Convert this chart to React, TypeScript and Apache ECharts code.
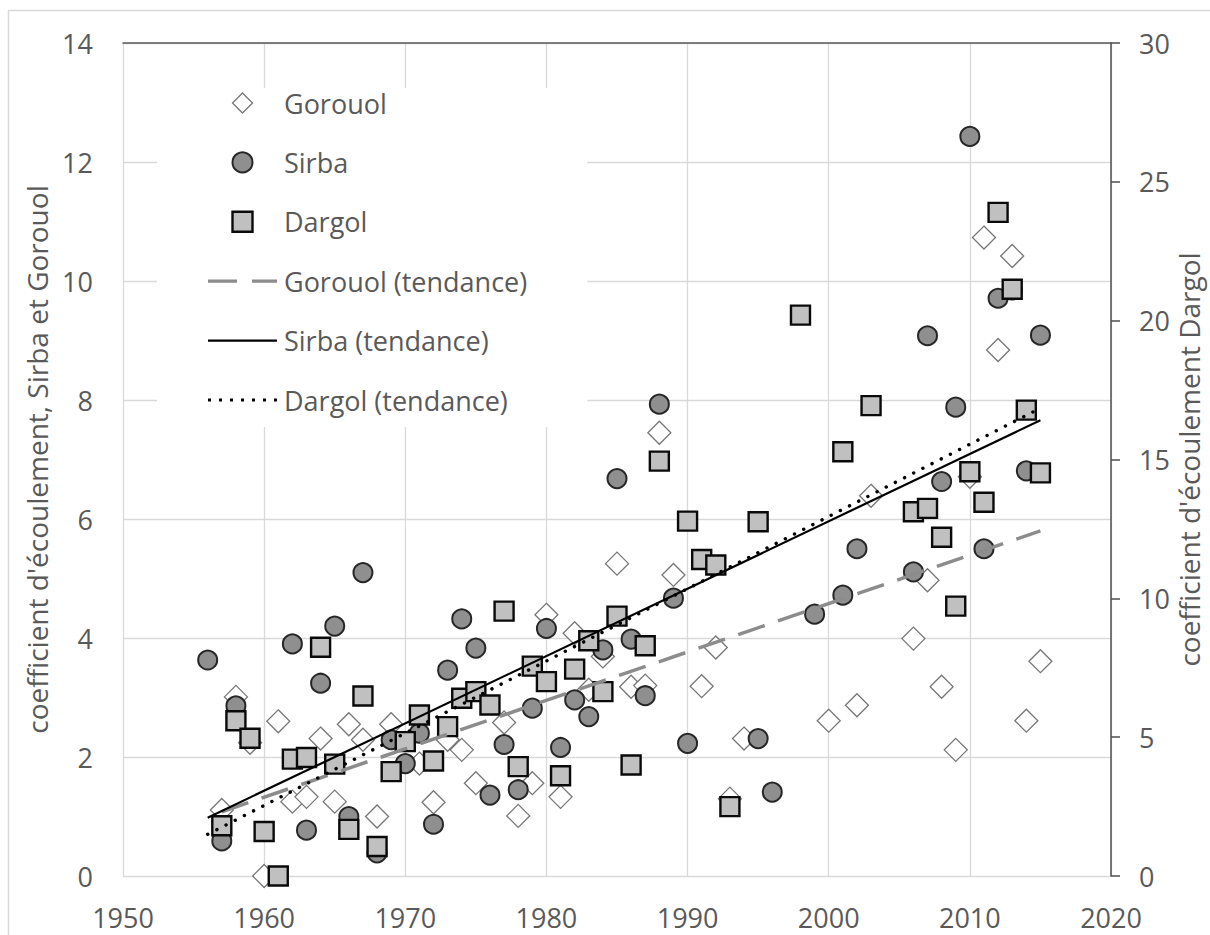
import React, { useEffect, useRef } from "react";
import * as echarts from "echarts";

// ---------- data ----------
const gorouolYears = [1957, 1958, 1959, 1960, 1961, 1962, 1963, 1964, 1965, 1966, 1967, 1968, 1969, 1971, 1972, 1973, 1974, 1975, 1977, 1978, 1979, 1980, 1981, 1982, 1983, 1984, 1985, 1986, 1987, 1988, 1989, 1991, 1992, 1993, 1994, 2000, 2002, 2003, 2006, 2007, 2008, 2009, 2010, 2011, 2012, 2013, 2014, 2015];
const gorouolValues = [1.11, 3.01, 2.24, 0.0, 2.6, 1.25, 1.33, 2.31, 1.25, 2.55, 2.29, 1.0, 2.55, 1.89, 1.24, 2.29, 2.12, 1.56, 2.58, 1.01, 1.56, 4.39, 1.33, 4.08, 3.13, 3.69, 5.25, 3.18, 3.2, 7.45, 5.06, 3.19, 3.84, 1.3, 2.31, 2.61, 2.87, 6.39, 3.99, 4.97, 3.18, 2.12, 6.71, 10.73, 8.84, 10.42, 2.61, 3.61];

const sirbaYears = [1956, 1957, 1958, 1962, 1963, 1964, 1965, 1966, 1967, 1968, 1969, 1970, 1971, 1972, 1973, 1974, 1975, 1976, 1977, 1978, 1979, 1980, 1981, 1982, 1983, 1984, 1985, 1986, 1987, 1988, 1989, 1990, 1995, 1996, 1999, 2001, 2002, 2006, 2007, 2008, 2009, 2010, 2011, 2012, 2013, 2014, 2015];
const sirbaValues = [3.63, 0.59, 2.86, 3.9, 0.77, 3.24, 4.2, 1.0, 5.1, 0.39, 2.29, 1.89, 2.4, 0.87, 3.46, 4.32, 3.83, 1.36, 2.21, 1.45, 2.82, 4.16, 2.16, 2.96, 2.68, 3.8, 6.68, 3.98, 3.03, 7.93, 4.67, 2.23, 2.31, 1.41, 4.4, 4.72, 5.5, 5.11, 9.08, 6.63, 7.88, 12.43, 5.5, 9.71, 9.85, 6.81, 9.09];

const dargolYears = [1957, 1958, 1959, 1960, 1961, 1962, 1963, 1964, 1965, 1966, 1967, 1968, 1969, 1970, 1971, 1972, 1973, 1974, 1975, 1976, 1977, 1978, 1979, 1980, 1981, 1982, 1983, 1984, 1985, 1986, 1987, 1988, 1990, 1991, 1992, 1993, 1995, 1998, 2001, 2003, 2006, 2007, 2008, 2009, 2010, 2011, 2012, 2013, 2014, 2015];
const dargolValues = [1.81, 5.59, 4.96, 1.6, 0.0, 4.21, 4.27, 8.24, 4.03, 1.68, 6.48, 1.06, 3.76, 4.84, 5.8, 4.14, 5.38, 6.4, 6.64, 6.16, 9.54, 3.94, 7.56, 7.0, 3.61, 7.45, 8.47, 6.64, 9.36, 4.0, 8.29, 14.94, 12.78, 11.4, 11.2, 2.5, 12.76, 20.2, 15.28, 16.94, 13.12, 13.24, 12.2, 9.72, 14.56, 13.46, 23.9, 21.13, 16.78, 14.52];

// trend lines (end points)
const gorouolTrendYears = [1957, 2015];
const gorouolTrendValues = [1.08, 5.8];
const sirbaTrendYears = [1956, 2015];
const sirbaTrendValues = [0.98, 7.66];
const dargolTrendYears = [1956, 2015];
const dargolTrendValues = [1.5, 16.85];

// axes
const xMin = 1950, xMax = 2020, xStep = 10;
const leftMin = 0, leftMax = 14, leftStep = 2;
const rightMin = 0, rightMax = 30, rightStep = 5;

const leftTitle = "coefficient d'écoulement, Sirba et Gorouol";
const rightTitle = "coefficient d'écoulement Dargol";
const seriesNames = ["Gorouol", "Sirba", "Dargol", "Gorouol (tendance)", "Sirba (tendance)", "Dargol (tendance)"];

// ---------- styling ----------
const FONT = "'Open Sans', 'Noto Sans', sans-serif";
const TEXT = "#595959";
const GRID = "#d9d9d9";
const AXIS = "#595959";

const pairs = (xs: number[], ys: number[]) => xs.map((x, i) => [x, ys[i]]);

const DIAMOND_ICON = "path://M10,0L20,10L10,20L0,10Z";
const SQUARE_ICON = "path://M0,0h20v20h-20z";
const DASH_ICON = "path://M0,0h29v3.2h-29z M44,0h25v3.2h-25z";
const SOLID_ICON = "path://M0,0h69v2.2h-69z";
const DOT_ICON = "path://M0,0h3v3h-3z M11,0h3v3h-3z M22,0h3v3h-3z M33,0h3v3h-3z M44,0h3v3h-3z M55,0h3v3h-3z M66,0h3v3h-3z";

function buildOption() {
  const labelStyle = { color: TEXT, fontSize: 27, fontFamily: FONT };
  const titleStyle = { color: TEXT, fontSize: 28, fontFamily: FONT };
  const plain = (v: number) => String(v);
  return {
    animation: false,
    backgroundColor: "#ffffff",
    textStyle: { fontFamily: FONT },
    graphic: [
      {
        type: "rect",
        silent: true,
        shape: { x: 8.5, y: 10.5, width: 1400, height: 1100 },
        style: { fill: "none", stroke: GRID, lineWidth: 1.5 },
      },
    ],
    grid: { left: 123, right: 99, top: 43, bottom: 59, containLabel: false, outerBoundsMode: "none" },
    xAxis: [
      {
        type: "value",
        min: xMin,
        max: xMax,
        interval: xStep,
        position: "bottom",
        axisLine: { show: false, onZero: false },
        axisTick: { show: false },
        axisLabel: { ...labelStyle, margin: 28, formatter: plain },
        splitLine: { show: true, lineStyle: { color: GRID, width: 1.3 } },
      },
      {
        type: "value",
        min: xMin,
        max: xMax,
        interval: xStep,
        position: "top",
        axisLine: { show: true, onZero: false, lineStyle: { color: AXIS, width: 1.6 } },
        axisTick: { show: false },
        axisLabel: { show: false },
        splitLine: { show: false },
      },
    ],
    yAxis: [
      {
        type: "value",
        min: leftMin,
        max: leftMax,
        interval: leftStep,
        position: "left",
        name: leftTitle,
        nameLocation: "middle",
        nameRotate: 90,
        nameGap: 72,
        nameMoveOverlap: false,
        nameTextStyle: { ...titleStyle },
        axisLine: { show: false, onZero: false },
        axisTick: { show: false },
        axisLabel: { ...labelStyle, margin: 30, formatter: plain },
        splitLine: { show: true, lineStyle: { color: GRID, width: 1.3 } },
      },
      {
        type: "value",
        min: rightMin,
        max: rightMax,
        interval: rightStep,
        position: "right",
        name: rightTitle,
        nameLocation: "middle",
        nameRotate: 90,
        nameGap: 64,
        nameMoveOverlap: false,
        nameTextStyle: { ...titleStyle },
        axisLine: { show: true, onZero: false, lineStyle: { color: AXIS, width: 1.6 } },
        axisTick: { show: true, inside: false, length: 9, lineStyle: { color: AXIS, width: 1.6 } },
        axisLabel: { ...labelStyle, margin: 28, formatter: plain },
        splitLine: { show: false },
      },
    ],
    legend: {
      orient: "vertical",
      left: 157,
      top: 88,
      padding: [1.5, 60, 13.5, 51],
      itemWidth: 69,
      itemHeight: 20,
      itemGap: 32.4,
      symbolKeepAspect: true,
      backgroundColor: "#ffffff",
      selectedMode: false,
      textStyle: { color: TEXT, fontSize: 27, fontFamily: FONT, padding: [0, 0, 0, 2] },
      data: [
        { name: seriesNames[0], icon: DIAMOND_ICON, itemStyle: { borderWidth: 1.3 } },
        { name: seriesNames[1], icon: "circle", itemStyle: { borderWidth: 2 } },
        { name: seriesNames[2], icon: SQUARE_ICON, itemStyle: { borderWidth: 2.4 } },
        { name: seriesNames[3], icon: DASH_ICON, itemStyle: { borderWidth: 0, color: "#8c8c8c" } },
        { name: seriesNames[4], icon: SOLID_ICON, itemStyle: { borderWidth: 0, color: "#000000" } },
        { name: seriesNames[5], icon: DOT_ICON, itemStyle: { borderWidth: 0, color: "#000000" } },
      ],
    },
    series: [
      {
        name: seriesNames[0],
        type: "scatter",
        xAxisIndex: 0,
        yAxisIndex: 0,
        data: pairs(gorouolYears, gorouolValues),
        symbol: "diamond",
        symbolSize: 23,
        itemStyle: { color: "#ffffff", borderColor: "#767676", borderWidth: 1.3, opacity: 1 },
        emphasis: { disabled: true },
      },
      {
        name: seriesNames[1],
        type: "scatter",
        xAxisIndex: 0,
        yAxisIndex: 0,
        data: pairs(sirbaYears, sirbaValues),
        symbol: "circle",
        symbolSize: 19,
        itemStyle: { color: "#8f8f8f", borderColor: "#262626", borderWidth: 2, opacity: 1 },
        emphasis: { disabled: true },
      },
      {
        name: seriesNames[2],
        type: "scatter",
        xAxisIndex: 0,
        yAxisIndex: 1,
        data: pairs(dargolYears, dargolValues),
        symbol: "rect",
        symbolSize: 19,
        itemStyle: { color: "#c0c0c0", borderColor: "#0a0a0a", borderWidth: 2.4, opacity: 1 },
        emphasis: { disabled: true },
      },
      {
        name: seriesNames[3],
        type: "line",
        xAxisIndex: 0,
        yAxisIndex: 0,
        data: pairs(gorouolTrendYears, gorouolTrendValues),
        symbol: "none",
        showSymbol: false,
        color: "#8c8c8c",
        lineStyle: { color: "#8c8c8c", width: 3.5, type: [28, 14], cap: "butt" },
        emphasis: { disabled: true },
      },
      {
        name: seriesNames[4],
        type: "line",
        xAxisIndex: 0,
        yAxisIndex: 0,
        data: pairs(sirbaTrendYears, sirbaTrendValues),
        symbol: "none",
        showSymbol: false,
        color: "#000000",
        lineStyle: { color: "#000000", width: 2.2, type: "solid" },
        emphasis: { disabled: true },
      },
      {
        name: seriesNames[5],
        type: "line",
        xAxisIndex: 0,
        yAxisIndex: 1,
        data: pairs(dargolTrendYears, dargolTrendValues),
        symbol: "none",
        showSymbol: false,
        color: "#000000",
        lineStyle: { color: "#000000", width: 3.4, type: [0.1, 10.2], cap: "round" },
        emphasis: { disabled: true },
      },
    ],
  };
}

export default function App() {
  const ref = useRef<HTMLDivElement>(null);
  useEffect(() => {
    if (!ref.current) return;
    const chart = echarts.init(ref.current, undefined, { renderer: "svg" });
    chart.setOption(buildOption() as any);
    return () => chart.dispose();
  }, []);
  return (
    <div
      ref={ref}
      style={{ position: "fixed", left: 0, top: 0, width: 1210, height: 935, background: "#ffffff" }}
    />
  );
}
